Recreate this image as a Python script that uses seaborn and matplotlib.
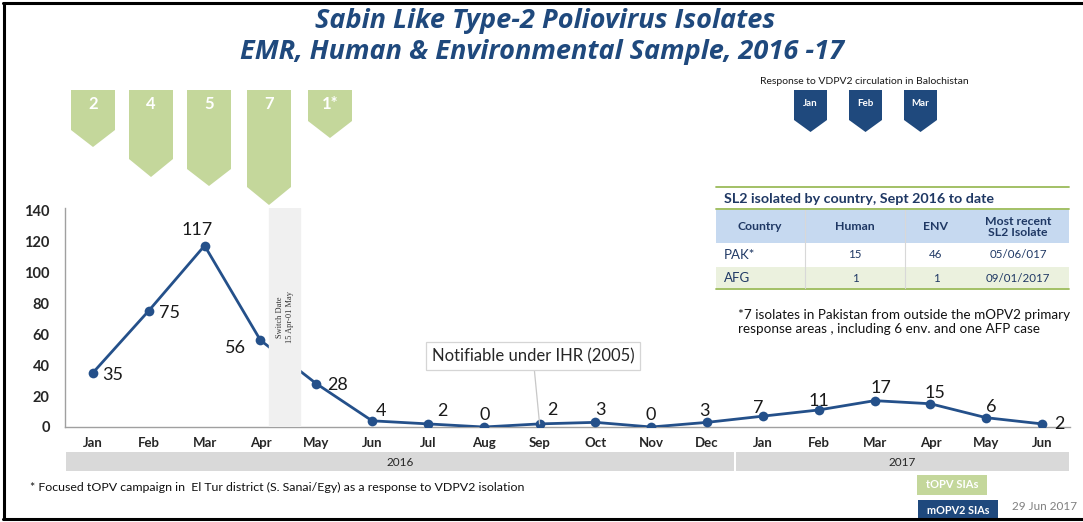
import matplotlib
matplotlib.use('Agg')
import matplotlib.pyplot as plt
import matplotlib.transforms as mtransforms
from matplotlib.patches import Polygon, Rectangle
from matplotlib.lines import Line2D
from matplotlib.ticker import FixedLocator
import seaborn as sns
import pandas as pd

# Chart data
months = ['Jan', 'Feb', 'Mar', 'Apr', 'May', 'Jun', 'Jul', 'Aug', 'Sep', 'Oct', 'Nov', 'Dec',
          'Jan', 'Feb', 'Mar', 'Apr', 'May', 'Jun']
isolates = [35, 75, 117, 56, 28, 4, 2, 0, 2, 3, 0, 3, 7, 11, 17, 15, 6, 2]
years = ['2016', '2017']
year_months = [12, 6]
topv_rounds = ['2', '4', '5', '7', '1*']
mopv2_rounds = ['Jan', 'Feb', 'Mar']
table_cols = ['Country', 'Human', 'ENV', 'Most recent\nSL2 Isolate']
table_country = ['PAK*', 'AFG']
table_human = [15, 1]
table_env = [46, 1]
table_recent = ['05/06/017', '09/01/2017']

# label offsets in pixels (dx right, dy down)
label_offsets = [(20, 2), (21, 2), (-7, -16), (-25, 8), (21, 1), (9, -10), (14, -13), (1, -12),
                 (13, -14), (5, -12), (-1, -12), (-3, -11), (-5, -8), (0, -9), (6, -13),
                 (5, -11), (5, -11), (17, 0)]

sns.set_style('white')
plt.rcParams['font.family'] = ['Lato', 'DejaVu Sans']

W, H = 1083, 522
BLUE = '#1f497d'
LINE = '#24508a'
GREEN = '#c4d79b'


def fx(x):
    return x / W


def fy(y):
    return 1 - y / H


fig = plt.figure(figsize=(W / 100, H / 100), dpi=100)
ax = fig.add_axes([fx(65), fy(427), (1070 - 65) / W, (427 - 208) / H])

df = pd.DataFrame({'idx': range(len(isolates)), 'isolates': isolates})
sns.lineplot(data=df, x='idx', y='isolates', ax=ax, color=LINE, lw=2, marker='o',
             markersize=7, markeredgewidth=0, zorder=3)

ax.set_xlim(-0.5, len(months) - 0.5)
ax.set_ylim(0, 141.3)
ax.set_xlabel('')
ax.set_ylabel('')
ax.set_yticks(range(0, 141, 20))
ax.set_xticks(range(len(months)))
ax.set_xticklabels(months, fontweight='bold', fontsize=9.5)
ax.xaxis.set_minor_locator(FixedLocator([i + 0.5 for i in range(-1, len(months))]))
ax.tick_params(axis='x', which='major', length=0, pad=7)
ax.tick_params(axis='x', which='minor', length=4, color='#a0a0a0', width=0.8, direction='out')
ax.tick_params(axis='y', length=0, pad=11, labelsize=10.5)
for t in ax.get_yticklabels():
    t.set_fontweight('bold')
for s in ['top', 'right']:
    ax.spines[s].set_visible(False)
for s in ['left', 'bottom']:
    ax.spines[s].set_color('#a0a0a0')
    ax.spines[s].set_linewidth(1)

for i, v in enumerate(isolates):
    dx, dy = label_offsets[i]
    ax.annotate(str(v), (i, v), xytext=(dx, -dy), textcoords='offset pixels',
                ha='center', va='center', fontsize=13, color='#1a1a1a', zorder=6)

# switch date band
ax.axvspan(3.16, 3.71, color='#f0f0f0', zorder=5)
ax.text(3.435, 71, 'Switch Date\n15 Apr-01 May', rotation=90, ha='center', va='center',
        family='Liberation Serif', fontsize=6, color='#333333', zorder=6, linespacing=1.4)

# notifiable annotation
ax.annotate('Notifiable under IHR (2005)', xy=(8, isolates[8]), xytext=(533, H - 356),
            textcoords='figure pixels', ha='center', va='center', fontsize=12, color='#262626',
            bbox=dict(boxstyle='square,pad=0.35', fc='white', ec='#d5d5d5', lw=0.9),
            arrowprops=dict(arrowstyle='-', color='#c8c8c8', lw=0.9, shrinkA=0, shrinkB=0),
            zorder=7)

# year bands under month labels
blend = mtransforms.blended_transform_factory(ax.transData, fig.transFigure)
start = -0.5
for yr, n in zip(years, year_months):
    ax.add_patch(Rectangle((start + 0.02, fy(471)), n - 0.04, (471 - 452) / H, transform=blend,
                           facecolor='#d9d9d9', edgecolor='none', clip_on=False))
    ax.text(start + n / 2, fy(462), yr, transform=blend, ha='center', va='center',
            fontsize=8.5, color='#262626')
    start += n

# title
fig.text(fx(545), fy(21), 'Sabin Like Type-2 Poliovirus Isolates', ha='center', va='center',
         fontsize=19.5, fontweight='bold', fontstyle='italic', color=BLUE, family='Open Sans')
fig.text(fx(542), fy(52), 'EMR, Human & Environmental Sample, 2016 -17', ha='center', va='center',
         fontsize=19.5, fontweight='bold', fontstyle='italic', color=BLUE, family='Open Sans')


def pentagon(x0, w, top, rb, tip, color):
    pts = [(fx(x0), fy(top)), (fx(x0 + w), fy(top)), (fx(x0 + w), fy(rb)),
           (fx(x0 + w / 2), fy(tip)), (fx(x0), fy(rb))]
    fig.add_artist(Polygon(pts, closed=True, transform=fig.transFigure, facecolor=color,
                           edgecolor='none'))


# tOPV campaign arrows
green_x = [71, 129, 187, 247, 308]
green_rb = [130, 159, 169, 187, 121]
green_tip = [147, 177, 186, 205, 138]
for lab, x0, rb, tip in zip(topv_rounds, green_x, green_rb, green_tip):
    pentagon(x0, 44, 90, rb, tip, GREEN)
    fig.text(fx(x0 + 22), fy(104), lab, ha='center', va='center', fontsize=12,
             fontweight='bold', color='white')

# mOPV2 arrows
fig.text(fx(864), fy(82), 'Response to VDPV2 circulation in Balochistan', ha='center',
         va='center', fontsize=7.5, color='#1a1a1a')
for lab, x0 in zip(mopv2_rounds, [794, 849, 904]):
    pentagon(x0, 33, 90, 120, 132, BLUE)
    fig.text(fx(x0 + 16.5), fy(103), lab, ha='center', va='center', fontsize=7,
             fontweight='bold', color='white')

# table
TBL = '#1f3864'
for y in [187, 209, 289]:
    fig.add_artist(Line2D([fx(716), fx(1069)], [fy(y), fy(y)], color='#9bbb59', lw=1.3))
fig.text(fx(724), fy(199), 'SL2 isolated by country, Sept 2016 to date', ha='left', va='center',
         fontsize=10.3, fontweight='bold', color=TBL)
fig.add_artist(Rectangle((fx(716), fy(243)), (1069 - 716) / W, (243 - 210) / H,
                         transform=fig.transFigure, facecolor='#c6d9f0', edgecolor='none'))
fig.add_artist(Rectangle((fx(716), fy(288)), (1069 - 716) / W, (288 - 267) / H,
                         transform=fig.transFigure, facecolor='#ebf1de', edgecolor='none'))
for x in [805, 905]:
    fig.add_artist(Line2D([fx(x), fx(x)], [fy(210), fy(288)], color='#d8d8d8', lw=0.8))
col_x = [760, 855, 936, 1018]
for cx, c in zip(col_x, table_cols):
    fig.text(fx(cx), fy(227), c, ha='center', va='center', fontsize=8.8, fontweight='bold',
             color=TBL, linespacing=1.05)
for ry, ctry, hum, env, rec in zip([255, 278], table_country, table_human, table_env, table_recent):
    fig.text(fx(724), fy(ry), ctry, ha='left', va='center', fontsize=9.5, color=TBL)
    fig.text(fx(col_x[1]), fy(ry), str(hum), ha='center', va='center', fontsize=8.3, color=TBL)
    fig.text(fx(col_x[2]), fy(ry), str(env), ha='center', va='center', fontsize=8.3, color=TBL)
    fig.text(fx(col_x[3]), fy(ry), rec, ha='center', va='center', fontsize=8.3, color=TBL)

fig.text(fx(738), fy(322), '*7 isolates in Pakistan from outside the mOPV2 primary\n'
         'response areas , including 6 env. and one AFP case', ha='left', va='center',
         fontsize=9.7, color='#111111', linespacing=1.2)

# bottom notes and legend boxes
fig.text(fx(30), fy(487), '* Focused tOPV campaign in  El Tur district (S. Sanai/Egy) as a '
         'response to VDPV2 isolation', ha='left', va='center', fontsize=8.9, color='#111111')
fig.add_artist(Rectangle((fx(917), fy(495)), 70 / W, 20 / H, transform=fig.transFigure,
                         facecolor=GREEN, edgecolor='none'))
fig.text(fx(952), fy(485), 'tOPV SIAs', ha='center', va='center', fontsize=8,
         fontweight='bold', color='white')
fig.add_artist(Rectangle((fx(918), fy(520)), 80 / W, 20 / H, transform=fig.transFigure,
                         facecolor=BLUE, edgecolor='none'))
fig.text(fx(958), fy(510), 'mOPV2 SIAs', ha='center', va='center', fontsize=7.8,
         fontweight='bold', color='white')
fig.text(fx(1012), fy(506), '29 Jun 2017', ha='left', va='center', fontsize=8.5,
         color='#808080')

# frame
for xs, ys in [([3, 1083], [3, 3]), ([4, 4], [3, 519]), ([3, 1083], [519, 519])]:
    fig.add_artist(Line2D([fx(x) for x in xs], [fy(y) for y in ys], color='black', lw=2.2))

fig.savefig('out.png', dpi=100)
